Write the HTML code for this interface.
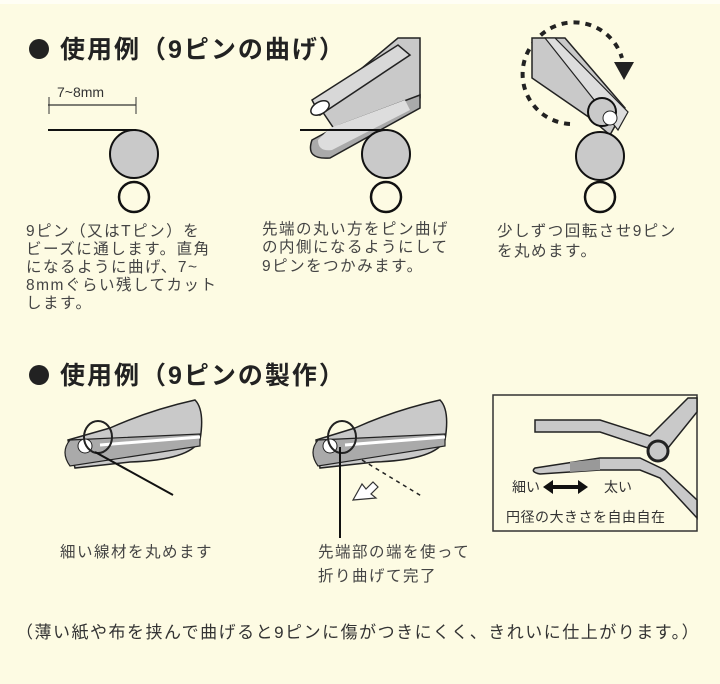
<!DOCTYPE html>
<html><head><meta charset="utf-8"><style>
html,body{margin:0;padding:0;background:#fdfbe3;}
svg{display:block}
text{font-family:"Liberation Sans","Noto Sans CJK JP",sans-serif;fill:#333}
.t{font-size:15.5px;fill:#444;letter-spacing:1.5px}
.h{font-size:25px;font-weight:bold;fill:#222;letter-spacing:2px}
</style></head><body>
<svg width="720" height="684" viewBox="0 0 720 684" xmlns="http://www.w3.org/2000/svg">
<rect width="720" height="684" fill="#fdfbe3"/>
<rect width="720" height="4" fill="#fffef5"/>
<!-- Title 1 -->
<circle cx="39" cy="49" r="10" fill="#222"/>
<text class="h" x="60" y="58">使用例（9ピンの曲げ）</text>
<!-- Step 1 -->
<text x="57" y="97" font-size="14">7~8mm</text>
<line x1="48" y1="105" x2="136" y2="105" stroke="#333" stroke-width="1.2"/>
<line x1="49" y1="97" x2="49" y2="114" stroke="#333"/>
<line x1="136" y1="97" x2="136" y2="114" stroke="#333"/>
<line x1="48" y1="130" x2="136" y2="130" stroke="#111" stroke-width="2"/>
<circle cx="134" cy="154" r="24" fill="#c9c9c9" stroke="#111" stroke-width="2"/>
<circle cx="134" cy="197" r="15" fill="none" stroke="#111" stroke-width="2.5"/>
<text class="t" x="26" y="236">9ピン（又はTピン）を</text>
<text class="t" x="26" y="254">ビーズに通します。直角</text>
<text class="t" x="26" y="272">になるように曲げ、7~</text>
<text class="t" x="26" y="290">8mmぐらい残してカット</text>
<text class="t" x="26" y="308">します。</text>
<!-- Step 2 -->
<path d="M318,105 L398,38 L420,38 L420,98 L345,145 Z" fill="#c9c9c9" stroke="#222" stroke-width="1.5"/>
<path d="M312,100 L398,45 L410,55 L320,115 Z" fill="#d8d8d8" stroke="#222" stroke-width="1.5"/>
<ellipse cx="320" cy="108" rx="10" ry="6" fill="#fff" stroke="#222" stroke-width="1.5" transform="rotate(-30 320 108)"/>
<path d="M312,140 Q305,160 330,158 L420,108 L420,95 L340,125 Z" fill="#aaa" stroke="#222" stroke-width="1.5"/>
<path d="M318,140 Q318,152 332,150 L410,110 L405,100 L330,128 Z" fill="#ddd"/>
<line x1="300" y1="130" x2="388" y2="130" stroke="#111" stroke-width="2"/>
<circle cx="386" cy="154" r="24" fill="#c9c9c9" stroke="#111" stroke-width="2"/>
<circle cx="386" cy="197" r="15" fill="none" stroke="#111" stroke-width="2.5"/>
<text class="t" x="262" y="234">先端の丸い方をピン曲げ</text>
<text class="t" x="262" y="252">の内側になるようにして</text>
<text class="t" x="262" y="271">9ピンをつかみます。</text>
<!-- Step 3 -->
<path d="M570,124 A50,50 0 0 1 536,40 A50,50 0 0 1 622,58" fill="none" stroke="#222" stroke-width="4" stroke-dasharray="6,6"/>
<path d="M614,62 L634,62 L624,80 Z" fill="#222"/>
<path d="M532,38 L565,38 L625,108 L610,135 L590,118 L532,78 Z" fill="#c9c9c9" stroke="#222" stroke-width="1.5"/>
<path d="M545,38 L555,38 L628,112 L618,130 Z" fill="#ddd" stroke="#222" stroke-width="1.2"/>
<circle cx="602" cy="112" r="14" fill="#c9c9c9" stroke="#111" stroke-width="2"/>
<circle cx="610" cy="118" r="7" fill="#fff" stroke="#222"/>
<circle cx="600" cy="156" r="24" fill="#c9c9c9" stroke="#111" stroke-width="2"/>
<circle cx="600" cy="197" r="15" fill="none" stroke="#111" stroke-width="2.5"/>
<text class="t" x="497" y="236">少しずつ回転させ9ピン</text>
<text class="t" x="497" y="256">を丸めます。</text>
<!-- Title 2 -->
<circle cx="39" cy="375" r="10" fill="#222"/>
<text class="h" x="60" y="384">使用例（9ピンの製作）</text>
<!-- Bottom left pliers -->
<path d="M68,440 L110,428 Q150,410 195,400 Q205,410 200,440 Q190,460 130,462 L75,468 Z" fill="#c9c9c9" stroke="#222" stroke-width="1.5"/>
<path d="M70,440 Q60,452 70,466 L200,446 L200,434 Z" fill="#aaa" stroke="#222" stroke-width="1.2"/>
<line x1="100" y1="445" x2="200" y2="437" stroke="#fff" stroke-width="3"/>
<circle cx="85" cy="446" r="7" fill="#fff" stroke="#222"/>
<ellipse cx="98" cy="437" rx="14" ry="16" fill="none" stroke="#222" stroke-width="2"/>
<line x1="95" y1="452" x2="173" y2="495" stroke="#111" stroke-width="2"/>
<text class="t" x="60" y="557">細い線材を丸めます</text>
<!-- Bottom middle pliers -->
<path d="M316,440 L355,428 Q395,410 440,400 Q450,410 445,440 Q435,460 375,462 L320,468 Z" fill="#c9c9c9" stroke="#222" stroke-width="1.5"/>
<path d="M318,440 Q308,452 318,466 L445,446 L445,434 Z" fill="#aaa" stroke="#222" stroke-width="1.2"/>
<line x1="345" y1="445" x2="445" y2="437" stroke="#fff" stroke-width="3"/>
<circle cx="330" cy="446" r="7" fill="#fff" stroke="#222"/>
<ellipse cx="342" cy="437" rx="14" ry="16" fill="none" stroke="#222" stroke-width="2"/>
<line x1="340" y1="447" x2="340" y2="538" stroke="#111" stroke-width="2"/>
<line x1="362" y1="460" x2="423" y2="497" stroke="#222" stroke-width="1.5" stroke-dasharray="4,4"/>
<path d="M353,500 L362,484 L366,489 L373,482 L378,487 L371,494 L376,498 Z" fill="#fff" stroke="#333" stroke-width="1.2"/>
<text class="t" x="318" y="557">先端部の端を使って</text>
<text class="t" x="318" y="581">折り曲げて完了</text>
<!-- Box -->
<rect x="493" y="395" width="204" height="136" fill="#fdfbe3" stroke="#333" stroke-width="1.5"/>
<path d="M535,420 L600,420 L650,436 L688,398 L697,398 L697,412 L668,448 L648,448 L600,432 L535,432 Z" fill="#c9c9c9" stroke="#222" stroke-width="1.5"/>
<path d="M535,468 L600,458 L640,458 L665,470 L697,500 L697,518 L660,478 L640,470 L600,470 L540,474 Q530,472 535,468 Z" fill="#c9c9c9" stroke="#222" stroke-width="1.5"/>
<path d="M570,462 L600,459 L600,470 L570,472 Z" fill="#999"/>
<circle cx="658" cy="451" r="10" fill="#c9c9c9" stroke="#222" stroke-width="3"/>
<text x="512" y="492" font-size="14" fill="#444">細い</text>
<path d="M543,487 L553,480 L553,485 L578,485 L578,480 L588,487 L578,494 L578,489 L553,489 L553,494 Z" fill="#111"/>
<text x="604" y="492" font-size="14" fill="#444">太い</text>
<text x="506" y="522" font-size="14" fill="#444" letter-spacing="0.5">円径の大きさを自由自在</text>
<!-- Footer -->
<text x="16" y="638" font-size="17" fill="#444" letter-spacing="1.5">（薄い紙や布を挟んで曲げると9ピンに傷がつきにくく、きれいに仕上がります。）</text>
</svg>
</body></html>
